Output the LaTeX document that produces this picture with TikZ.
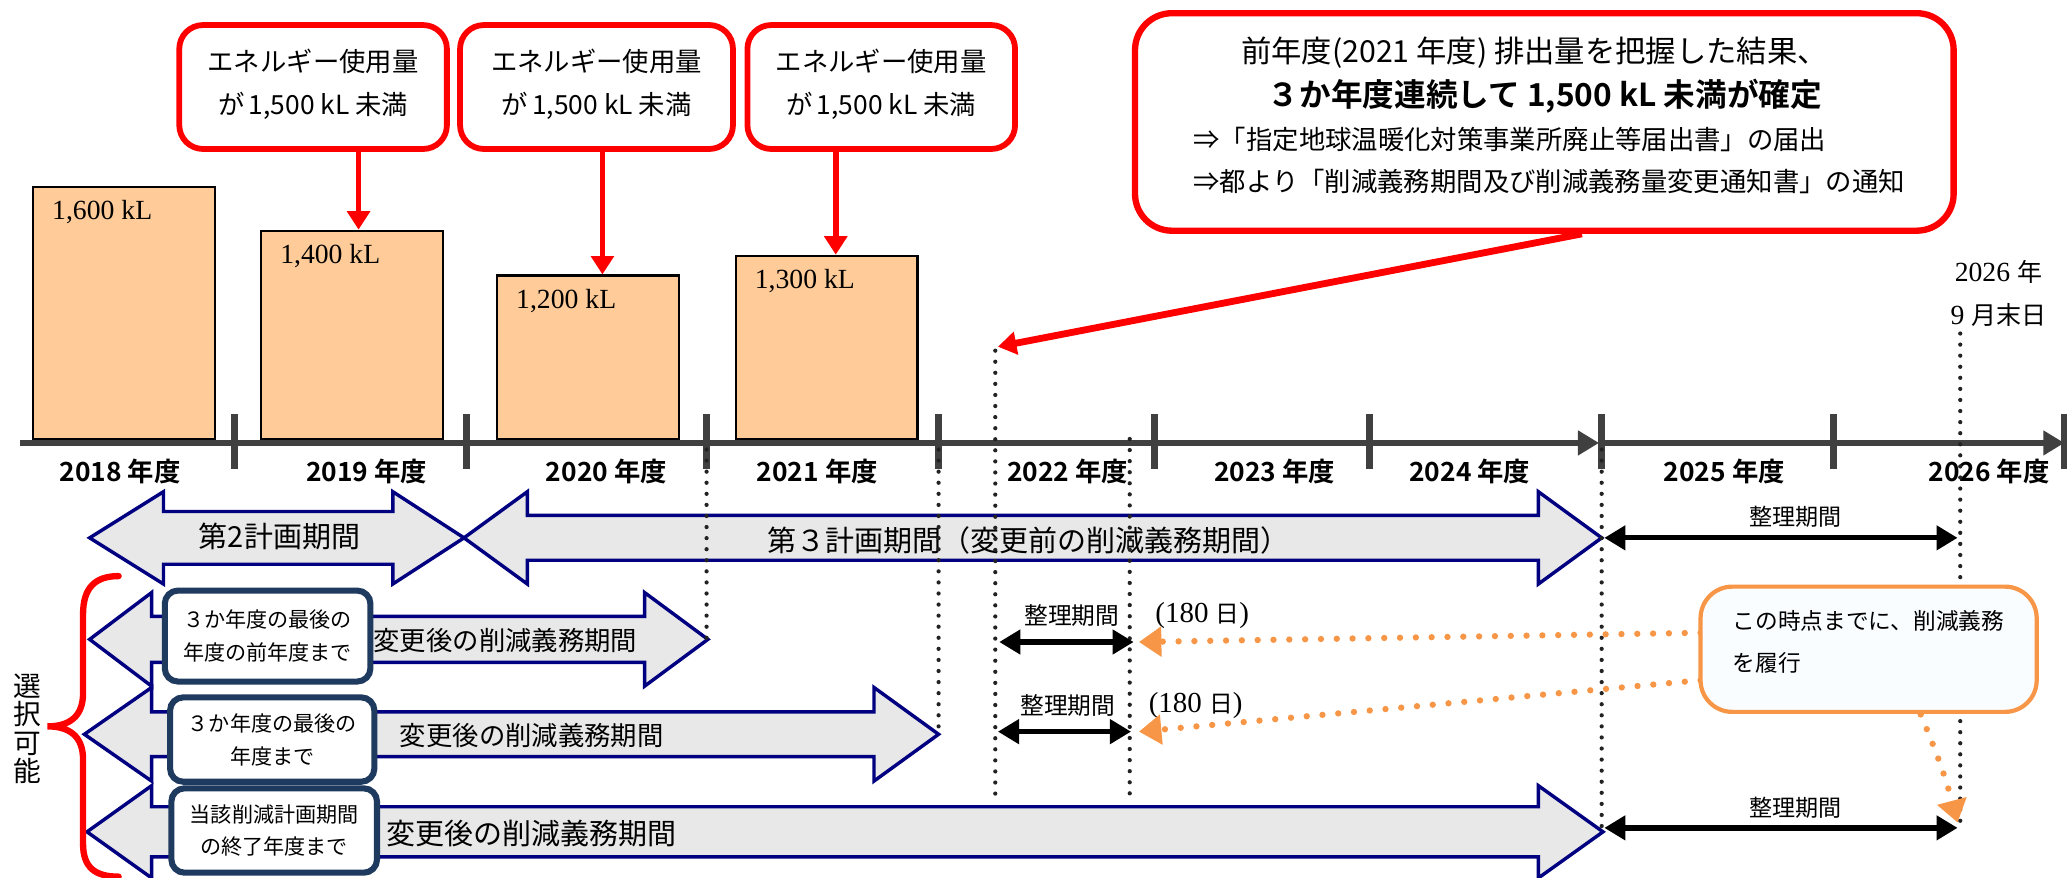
\documentclass[tikz,border=0pt]{standalone}
\usepackage{fontspec}
\setmainfont{Liberation Serif}
\newfontfamily\jp{Noto Sans CJK JP}
\newfontfamily\jpb{Noto Sans CJK JP Bold}
\usetikzlibrary{arrows.meta,calc,fit}
\definecolor{barfill}{HTML}{FFCC99}
\definecolor{axisgray}{HTML}{404040}
\definecolor{navyline}{HTML}{000080}
\definecolor{navyframe}{HTML}{1F3A5F}
\definecolor{blockfill}{HTML}{E8E8E8}
\definecolor{dotgray}{HTML}{222222}
\definecolor{orangeline}{HTML}{F79646}
\definecolor{calloutfill}{HTML}{FAFDFF}
\newcommand\fs[2]{\fontsize{#1}{#2}\selectfont}
\newcommand\bigarrowshape[7]{%
  \draw[blk] (#1,#5) -- (#2,#5-#7) -- (#2,#5-#6) -- (#3,#5-#6) -- (#3,#5-#7) -- (#4,#5)
    -- (#3,#5+#7) -- (#3,#5+#6) -- (#2,#5+#6) -- (#2,#5+#7) -- cycle;}
\tikzset{
  redbox/.style={draw=red, line width=2.2pt, rounded corners=9pt, fill=white, inner sep=0pt},
  redarr/.style={draw=red, line width=2.2pt, -{Triangle[length=7pt,width=8.5pt]}},
  barbox/.style={draw=black, line width=0.8pt, fill=barfill, inner sep=0pt},
  axisline/.style={draw=axisgray, line width=2.6pt, -{Triangle[length=8pt,width=9pt]}},
  tickline/.style={draw=axisgray, line width=2.6pt},
  blk/.style={draw=navyline, line width=1.3pt, fill=blockfill, line join=miter},
  navyrbox/.style={draw=navyframe, line width=2.3pt, rounded corners=5pt, fill=white, inner sep=0pt},
  vdots/.style={draw=dotgray, line width=1.6pt, line cap=round, dash pattern=on 0pt off 4.2pt},
  dblarr/.style={draw=black, line width=2pt, {Triangle[length=8pt,width=9pt]}-{Triangle[length=8pt,width=9pt]}},
  orangebox/.style={draw=orangeline, line width=1.6pt, rounded corners=12pt, fill=calloutfill, inner sep=0pt},
  odots/.style={draw=orangeline, line width=2.4pt, line cap=round, dash pattern=on 0pt off 6pt,
     -{Triangle[length=8.5pt,width=11pt,fill=orangeline]}},
  jtxt/.style={inner sep=0pt, font=\jp\fs{10}{16.5}},
  yearlbl/.style={inner sep=0pt, font=\jpb\fs{10}{12}},
  kl/.style={inner sep=0pt, anchor=west, font=\rmfamily\fs{10.5}{12}},
  seiri/.style={inner sep=0pt, font=\jp\fs{8.75}{10}},
  rowtxt/.style={inner sep=0pt, anchor=west, font=\jp\fs{10}{12}},
  boxtxt/.style={inner sep=0pt, align=center, font=\jp\fs{8}{12.5}},
}
\begin{document}
\begin{tikzpicture}[x=0.5pt,y=-0.5pt]
\fill[white] (0,0) rectangle (1568,666);
\useasboundingbox (0,0) rectangle (1568,666);

% bars
\node[barbox, fit={(25,142) (163,333)}] (b1) {};
\node[barbox, fit={(198,175) (336,333)}] (b2) {};
\node[barbox, fit={(377,209) (515,333)}] (b3) {};
\node[barbox, fit={(558,194) (696,333)}] (b4) {};
\node[kl] at ($(b1.north west)+(15,20)$) {1,600 kL};
\node[kl] at ($(b2.north west)+(15,20)$) {1,400 kL};
\node[kl] at ($(b3.north west)+(15,20)$) {1,200 kL};
\node[kl] at ($(b4.north west)+(15,20)$) {1,300 kL};

% axis
\coordinate (ax0) at (15,336);
\coordinate (ax1) at (1213,336);
\coordinate (ax2) at (1566,336);
\draw[axisline] (ax0) -- (ax1);
\draw[axisline] (1215,336) -- (ax2);
\foreach \x in {178,354,536,712,876,1039,1215,1391,1566}
  \draw[tickline] (\x,314) -- (\x,356);

% year labels
\foreach \x/\y in {91/2018,278/2019,460/2020,620/2021,810/2022,967/2023,1115/2024,1308/2025,1509/2026}
  \node[yearlbl] at (\x,358) {\y{} 年度};

% red callouts
\node[redbox, fit={(136,19) (339,113)}] (c1) {};
\node[redbox, fit={(349,19) (556,113)}] (c2) {};
\node[redbox, fit={(567,19) (770,113)}] (c3) {};
\foreach \c in {c1,c2,c3}
  \node[jtxt, align=center] at ($(\c.center)+(0,-2)$) {エネルギー使用量\\が\,1,500 kL 未満};
\coordinate (a1) at (272,0);
\coordinate (a2) at (457,0);
\coordinate (a3) at (634,0);
\draw[redarr] (c1.south -| a1) -- (b2.north -| a1);
\draw[redarr] (c2.south -| a2) -- (b3.north -| a2);
\draw[redarr] (c3.south -| a3) -- (b4.north -| a3);

\node[redbox, line width=2.4pt, rounded corners=14pt, fit={(861,10) (1482,175)}] (c4) {};
\node[inner sep=0pt, font=\jp\fs{11.5}{14}] at (1164,40) {前年度(2021 年度) 排出量を把握した結果、};
\node[inner sep=0pt, font=\jpb\fs{12}{14}] at (1172,73) {３か年度連続して 1,500 kL 未満が確定};
\node[inner sep=0pt, anchor=west, font=\jp\fs{10}{13}] at (905,106) {⇒「指定地球温暖化対策事業所廃止等届出書」の届出};
\node[inner sep=0pt, anchor=west, font=\jp\fs{10}{13}] at (905,138) {⇒都より「削減義務期間及び削減義務量変更通知書」の通知};
\coordinate (p4) at (1200,0);
\coordinate (v3t) at (757,263);
\draw[redarr, line width=2.6pt] (c4.south -| p4) -- (v3t);

% 2026 label
\node[inner sep=0pt] at (1516,206) {{\rmfamily\fs{10.5}{12}2026 }{\jp\fs{9.5}{12}年}};
\node[inner sep=0pt] at (1516,239) {{\rmfamily\fs{10.5}{12}9 }{\jp\fs{9.5}{12}月末日}};

% block arrows
\bigarrowshape{68}{124}{298}{352}{408}{20}{35}
\bigarrowshape{352}{400}{1167}{1215}{408}{17}{35}
\bigarrowshape{68}{115}{489}{537}{485}{17.5}{35.5}
\bigarrowshape{64}{115}{663}{712}{557}{17}{35.5}
\bigarrowshape{66}{115}{1167}{1216}{631}{19}{35}
\node[inner sep=0pt, font=\jp\fs{11}{13}] at (212,407) {第2計画期間};
\node[inner sep=0pt, font=\jp\fs{11}{13}] at (780,410) {第３計画期間（変更前の削減義務期間）};

% navy boxes
\node[navyrbox, fit={(125,448) (281,517)}] (n1) {};
\node[navyrbox, fit={(129,529) (284,593)}] (n2) {};
\node[navyrbox, fit={(130,598) (286,662)}] (n3) {};
\node[boxtxt] at (n1.center) {３か年度の最後の\\年度の前年度まで};
\node[boxtxt] at (n2.center) {３か年度の最後の\\年度まで};
\node[boxtxt] at (n3.center) {当該削減計画期間\\の終了年度まで};
\node[rowtxt] at (283,486) {変更後の削減義務期間};
\node[rowtxt] at (303,558) {変更後の削減義務期間};
\node[rowtxt, font=\jp\fs{11}{13}] at (293,632) {変更後の削減義務期間};

% brace and label
\draw[red, line width=2.4pt, line cap=round]
  (90,437) .. controls (72,437) and (63,446) .. (63,466) -- (63,526)
  .. controls (63,544) and (52,551) .. (36,551)
  .. controls (52,551) and (63,558) .. (63,576) -- (63,640)
  .. controls (63,658) and (72,665) .. (90,665);
\node[inner sep=0pt, align=center, font=\jp\fs{10.5}{10.8}] at (21,553) {選\\択\\可\\能};

% dotted vertical lines
\coordinate (v1t) at (536,341); \coordinate (v1b) at (536,487);
\coordinate (v2t) at (712,341); \coordinate (v2b) at (712,557);
\coordinate (v3b) at (755,602);
\coordinate (v4t) at (857,333); \coordinate (v4b) at (857,608);
\coordinate (v5t) at (1215,341); \coordinate (v5b) at (1215,628);
\coordinate (v6t) at (1487,253); \coordinate (v6b) at (1487,624);
\draw[vdots] (v1t) -- (v1b);
\draw[vdots] (v2t) -- (v2b);
\draw[vdots] (755,266) -- (v3b);
\draw[vdots] (v4t) -- (v4b);
\draw[vdots] (v5t) -- (v5b);
\draw[vdots] (v6t) -- (v6b);

% black double arrows
\coordinate (s0l) at (1217,408); \coordinate (s0r) at (1485,408);
\coordinate (s1l) at (758,487);  \coordinate (s1r) at (860,487);
\coordinate (s2l) at (757,555);  \coordinate (s2r) at (858,555);
\coordinate (s3l) at (1217,628); \coordinate (s3r) at (1485,628);
\draw[dblarr] (s0l) -- (s0r);
\draw[dblarr] (s1l) -- (s1r);
\draw[dblarr] (s2l) -- (s2r);
\draw[dblarr] (s3l) -- (s3r);
\node[seiri] at (1362,392) {整理期間};
\node[seiri] at (1362,613) {整理期間};
\node[seiri, font=\jp\fs{9}{10}] at (813,467) {整理期間};
\node[seiri, font=\jp\fs{9}{10}] at (810,535) {整理期間};
\node[inner sep=0pt] at (912,467) {{\rmfamily\fs{11}{12}(180 }{\jp\fs{9}{12}日}{\rmfamily\fs{11}{12})}};
\node[inner sep=0pt] at (907,535) {{\rmfamily\fs{11}{12}(180 }{\jp\fs{9}{12}日}{\rmfamily\fs{11}{12})}};

% orange dotted arrows and callout
\coordinate (o1s) at (1290,480); \coordinate (o1e) at (864,487);
\coordinate (o2s) at (1290,516); \coordinate (o2e) at (864,555);
\coordinate (o3s) at (1457,542); \coordinate (o3e) at (1485,624);
\draw[odots] (o1s) -- (o1e);
\draw[odots] (o2s) -- (o2e);
\draw[odots] (o3s) to[bend left=4] (o3e);
\node[orangebox, fit={(1290,445) (1545,540)}] (oc) {};
\node[inner sep=0pt, anchor=west, font=\jp\fs{8.6}{10}] at (1314,471) {この時点までに、削減義務};
\node[inner sep=0pt, anchor=west, font=\jp\fs{8.6}{10}] at (1314,503) {を履行};
\end{tikzpicture}
\end{document}
